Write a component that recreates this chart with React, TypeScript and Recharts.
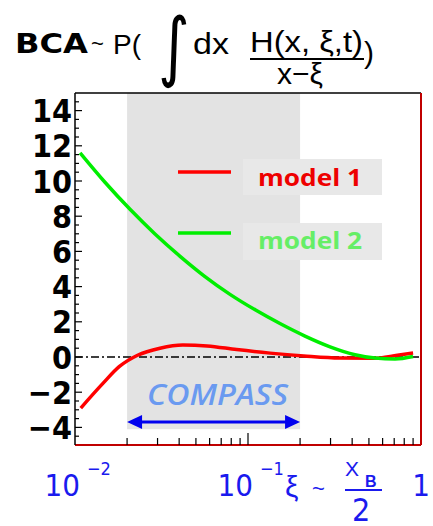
import React from 'react';
import { LineChart, Line, XAxis, YAxis, ReferenceArea, ReferenceLine } from 'recharts';

// model curves (x = xi, log scale)
const model1 = [
  { x: 0.0108, y: -2.9 },
  { x: 0.0145, y: -1.5 },
  { x: 0.018, y: -0.55 },
  { x: 0.023, y: 0.1 },
  { x: 0.031, y: 0.5 },
  { x: 0.042, y: 0.68 },
  { x: 0.058, y: 0.63 },
  { x: 0.086, y: 0.42 },
  { x: 0.134, y: 0.22 },
  { x: 0.21, y: 0.06 },
  { x: 0.34, y: -0.06 },
  { x: 0.53, y: -0.07 },
  { x: 0.73, y: 0.1 },
  { x: 0.9, y: 0.23 },
];

const model2 = [
  { x: 0.0107, y: 11.6 },
  { x: 0.0149, y: 9.93 },
  { x: 0.0208, y: 8.39 },
  { x: 0.029, y: 6.99 },
  { x: 0.0405, y: 5.72 },
  { x: 0.0564, y: 4.57 },
  { x: 0.0787, y: 3.56 },
  { x: 0.11, y: 2.68 },
  { x: 0.153, y: 1.9 },
  { x: 0.2135, y: 1.19 },
  { x: 0.298, y: 0.58 },
  { x: 0.4155, y: 0.13 },
  { x: 0.542, y: -0.06 },
  { x: 0.708, y: -0.11 },
  { x: 0.9, y: 0.03 },
];

const xTicks = [0.01, 0.02, 0.03, 0.04, 0.05, 0.06, 0.07, 0.08, 0.09, 0.1, 0.2, 0.3, 0.4, 0.5, 0.6, 0.7, 0.8, 0.9, 1];
const xDecades = [0.01, 0.1, 1];
const xDecadeBase = ['10', '10', '1'];
const xDecadeExp = ['\u22122', '\u22121', ''];

const yTicks = [
  -4.5, -4, -3.5, -3, -2.5, -2, -1.5, -1, -0.5, 0, 0.5, 1, 1.5, 2, 2.5, 3, 3.5, 4, 4.5, 5, 5.5, 6, 6.5,
  7, 7.5, 8, 8.5, 9, 9.5, 10, 10.5, 11, 11.5, 12, 12.5, 13, 13.5, 14, 14.5,
];
const yLabels = [-4, -2, 0, 2, 4, 6, 8, 10, 12, 14];

const compassRange = [0.02, 0.2];
const compassY = -3.7;
const shadeBottom = -4.1;

const NARROW = "'Liberation Sans Narrow', 'DejaVu Sans Condensed', 'Liberation Sans', sans-serif";
const SANS = "'Liberation Sans', Arial, sans-serif";
const FRAME_RED = '#c00000';
const BLUE = '#1a1aee';

const XTick = ({ x, y, payload }: any) => {
  const v = payload.value;
  const i = xDecades.indexOf(v);
  const len = v === 0.1 ? 12 : 7;
  const edge = v === 0.01 || v === 1;
  return (
    <g>
      {!edge && <line x1={x} x2={x} y1={y} y2={y - len} stroke="#000" strokeWidth={1.2} />}
      {i >= 0 && (
        <g fill={BLUE} fontFamily={NARROW}>
          <text x={xDecadeExp[i] ? x + 5 : x} y={y + 51} textAnchor={xDecadeExp[i] ? 'end' : 'middle'} fontSize={31}>
            {xDecadeBase[i]}
          </text>
          {xDecadeExp[i] && (
            <text x={x + 12} y={y + 30} fontSize={18}>
              {xDecadeExp[i]}
            </text>
          )}
        </g>
      )}
    </g>
  );
};

const YTick = ({ x, y, payload }: any) => {
  const v = payload.value;
  const major = yLabels.includes(v);
  return (
    <g>
      <line x1={x} x2={x + (major ? 7 : 4)} y1={y} y2={y} stroke="#000" strokeWidth={1.2} />
      {major && (
        <text x={x - 3} y={y} dy="0.36em" textAnchor="end" fontFamily={NARROW} fontWeight="bold" fontSize={32} fill="#000">
          {v < 0 ? `\u2212${-v}` : v}
        </text>
      )}
    </g>
  );
};

const ArrowShape = (props: any) => {
  const { x1, y1, x2, y2 } = props;
  const h = 15;
  const w = 7;
  return (
    <g>
      <line x1={x1 + h - 2} y1={y1} x2={x2 - h + 2} y2={y2} stroke="#0000ee" strokeWidth={3} />
      <polygon points={`${x1},${y1} ${x1 + h},${y1 - w} ${x1 + h},${y1 + w}`} fill="#0000ee" />
      <polygon points={`${x2},${y2} ${x2 - h},${y2 - w} ${x2 - h},${y2 + w}`} fill="#0000ee" />
    </g>
  );
};

export default function App() {
  return (
    <div style={{ position: 'fixed', left: 0, top: 0, width: 433, height: 526, background: '#fff' }}>
      <LineChart width={433} height={526} margin={{ top: 93, right: 12, bottom: 0, left: 0 }}>
        <ReferenceArea x1={compassRange[0]} x2={compassRange[1]} y1={shadeBottom} y2={15} fill="#e3e3e3" fillOpacity={1} stroke="none" />
        <XAxis
          dataKey="x"
          type="number"
          scale="log"
          domain={[0.01, 1]}
          ticks={xTicks}
          interval={0}
          allowDataOverflow
          height={81}
          tickSize={0}
          tickMargin={0}
          tick={<XTick />}
          axisLine={{ stroke: FRAME_RED, strokeWidth: 2 }}
          tickLine={false}
        />
        <YAxis
          type="number"
          domain={[-5, 15]}
          ticks={yTicks}
          interval={0}
          allowDataOverflow
          width={75}
          tickSize={0}
          tickMargin={0}
          tick={<YTick />}
          axisLine={{ stroke: '#000', strokeWidth: 1.5 }}
          tickLine={false}
        />
        <ReferenceLine y={15} stroke="#000" strokeWidth={1.5} />
        <ReferenceLine x={1} stroke={FRAME_RED} strokeWidth={2} />
        <ReferenceLine y={0} stroke="#000" strokeWidth={1.5} strokeDasharray="8 3 2 3" />
        <ReferenceLine
          segment={[{ x: compassRange[0], y: compassY }, { x: compassRange[1], y: compassY }]}
          shape={ArrowShape}
        />
        <Line data={model1} dataKey="y" type="monotone" stroke="#ff0000" strokeWidth={3.5} dot={false} isAnimationActive={false} />
        <Line data={model2} dataKey="y" type="monotone" stroke="#00ee00" strokeWidth={3.5} dot={false} isAnimationActive={false} />
      </LineChart>

      <svg width={433} height={526} style={{ position: 'absolute', left: 0, top: 0, pointerEvents: 'none' }}>
        {/* title */}
        <text x={15} y={53} fontFamily="'DejaVu Sans', sans-serif" fontWeight="bold" fontSize={27} textLength={73} lengthAdjust="spacingAndGlyphs">BCA</text>
        <text x={91} y={51} fontFamily={SANS} fontSize={22}>~</text>
        <text x={113} y={54} fontFamily={SANS} fontSize={28}>P(</text>
        <text x={158} y={72} fontFamily="'DejaVu Sans', sans-serif" fontSize={76} transform="translate(158 0) scale(0.8 1) translate(-158 0)">{'\u222B'}</text>
        <text x={193} y={54} fontFamily={SANS} fontSize={29} textLength={36} lengthAdjust="spacingAndGlyphs">dx</text>
        <text x={250} y={52} fontFamily={SANS} fontSize={30} textLength={113} lengthAdjust="spacingAndGlyphs">H(x, {'\u03BE'},t)</text>
        <line x1={250} x2={364} y1={59} y2={59} stroke="#000" strokeWidth={2} />
        <text x={364} y={63} fontFamily={SANS} fontSize={30}>)</text>
        <text x={277} y={84} fontFamily={SANS} fontSize={30}>x{'\u2212'}{'\u03BE'}</text>

        {/* legend */}
        <rect x={243} y={159} width={139} height={36} fill="#e8e8e8" />
        <rect x={243} y={223} width={139} height={37} fill="#e8e8e8" />
        <line x1={178} x2={231} y1={172} y2={172} stroke="#ff0000" strokeWidth={3.5} />
        <line x1={178} x2={231} y1={233} y2={233} stroke="#00ee00" strokeWidth={3.5} />
        <text x={258} y={186} fontFamily="'Open Sans', sans-serif" fontWeight="bold" fontSize={24} fill="#ee0000" textLength={104} lengthAdjust="spacingAndGlyphs">model 1</text>
        <text x={258} y={249} fontFamily="'Open Sans', sans-serif" fontWeight="bold" fontSize={24} fill="#66ee66" textLength={104} lengthAdjust="spacingAndGlyphs">model 2</text>

        {/* experiment range */}
        <text x={147} y={405} fontFamily="'Open Sans', sans-serif" fontStyle="italic" fontWeight={600} fontSize={28} fill="#6a9af0" textLength={141} lengthAdjust="spacingAndGlyphs">COMPASS</text>

        {/* x-axis title */}
        <g fill={BLUE}>
          <text x={285} y={497} fontFamily={SANS} fontSize={30}>{'\u03BE'}</text>
          <text x={312} y={496} fontFamily={SANS} fontSize={22}>~</text>
          <text x={345} y={476} fontFamily={SANS} fontSize={21}>X</text>
          <text x={365} y={487} fontFamily={SANS} fontWeight="bold" fontSize={16}>B</text>
          <line x1={345} x2={382} y1={490} y2={490} stroke={BLUE} strokeWidth={2} />
          <text x={352} y={521} fontFamily={NARROW} fontSize={32}>2</text>
        </g>
      </svg>
    </div>
  );
}
